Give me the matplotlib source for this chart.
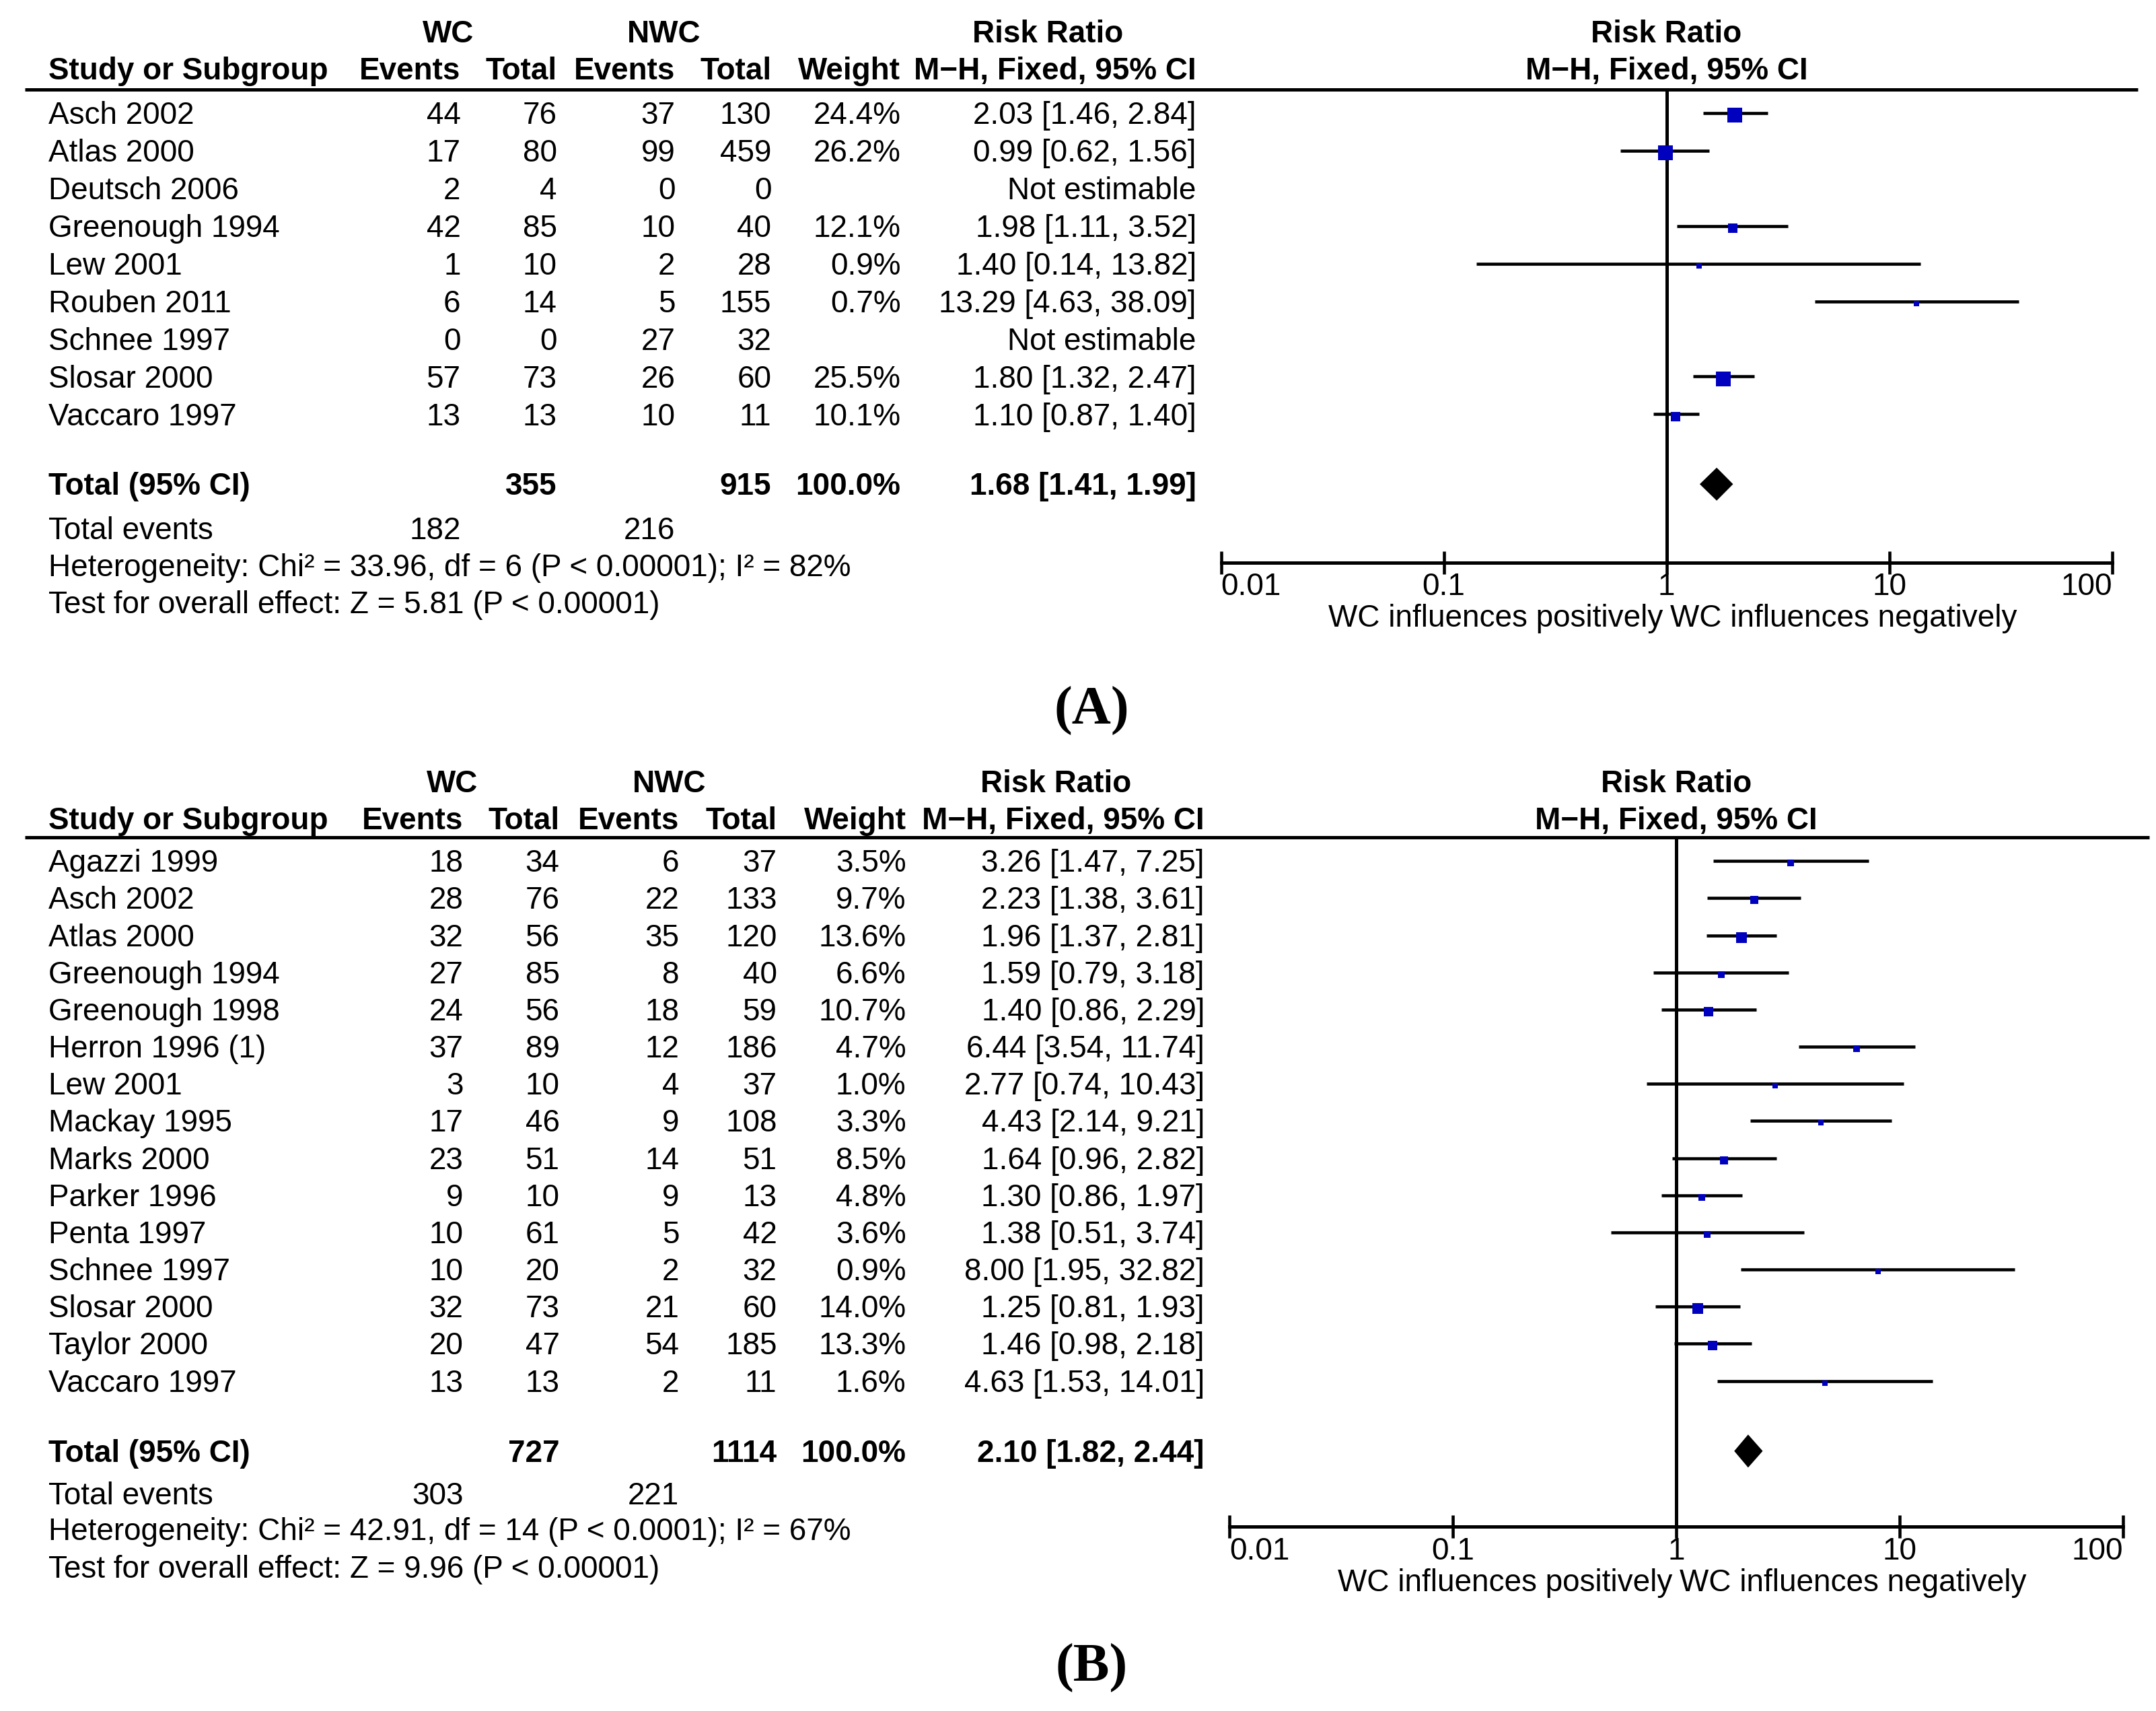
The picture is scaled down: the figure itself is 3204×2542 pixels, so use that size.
import matplotlib
matplotlib.use('Agg')
import matplotlib.pyplot as plt
from matplotlib.transforms import blended_transform_factory

plt.rcParams['font.family'] = ['Liberation Sans', 'DejaVu Sans']
FS = 33

# ---- panel A data
studies_a = ["Asch 2002", "Atlas 2000", "Deutsch 2006", "Greenough 1994", "Lew 2001",
             "Rouben 2011", "Schnee 1997", "Slosar 2000", "Vaccaro 1997"]
wc_ev_a = [44, 17, 2, 42, 1, 6, 0, 57, 13]
wc_tot_a = [76, 80, 4, 85, 10, 14, 0, 73, 13]
nwc_ev_a = [37, 99, 0, 10, 2, 5, 27, 26, 10]
nwc_tot_a = [130, 459, 0, 40, 28, 155, 32, 60, 11]
weight_a = [24.4, 26.2, None, 12.1, 0.9, 0.7, None, 25.5, 10.1]
rr_a = [2.03, 0.99, None, 1.98, 1.40, 13.29, None, 1.80, 1.10]
lo_a = [1.46, 0.62, None, 1.11, 0.14, 4.63, None, 1.32, 0.87]
hi_a = [2.84, 1.56, None, 3.52, 13.82, 38.09, None, 2.47, 1.40]
total_a = {"wc_tot": 355, "nwc_tot": 915, "rr": 1.68, "lo": 1.41, "hi": 1.99,
           "wc_ev": 182, "nwc_ev": 216}
het_a = "Heterogeneity: Chi² = 33.96, df = 6 (P < 0.00001); I² = 82%"
test_a = "Test for overall effect: Z = 5.81 (P < 0.00001)"

# ---- panel B data
studies_b = ["Agazzi 1999", "Asch 2002", "Atlas 2000", "Greenough 1994", "Greenough 1998",
             "Herron 1996 (1)", "Lew 2001", "Mackay 1995", "Marks 2000", "Parker 1996",
             "Penta 1997", "Schnee 1997", "Slosar 2000", "Taylor 2000", "Vaccaro 1997"]
wc_ev_b = [18, 28, 32, 27, 24, 37, 3, 17, 23, 9, 10, 10, 32, 20, 13]
wc_tot_b = [34, 76, 56, 85, 56, 89, 10, 46, 51, 10, 61, 20, 73, 47, 13]
nwc_ev_b = [6, 22, 35, 8, 18, 12, 4, 9, 14, 9, 5, 2, 21, 54, 2]
nwc_tot_b = [37, 133, 120, 40, 59, 186, 37, 108, 51, 13, 42, 32, 60, 185, 11]
weight_b = [3.5, 9.7, 13.6, 6.6, 10.7, 4.7, 1.0, 3.3, 8.5, 4.8, 3.6, 0.9, 14.0, 13.3, 1.6]
rr_b = [3.26, 2.23, 1.96, 1.59, 1.40, 6.44, 2.77, 4.43, 1.64, 1.30, 1.38, 8.00, 1.25, 1.46, 4.63]
lo_b = [1.47, 1.38, 1.37, 0.79, 0.86, 3.54, 0.74, 2.14, 0.96, 0.86, 0.51, 1.95, 0.81, 0.98, 1.53]
hi_b = [7.25, 3.61, 2.81, 3.18, 2.29, 11.74, 10.43, 9.21, 2.82, 1.97, 3.74, 32.82, 1.93, 2.18, 14.01]
total_b = {"wc_tot": 727, "nwc_tot": 1114, "rr": 2.10, "lo": 1.82, "hi": 2.44,
           "wc_ev": 303, "nwc_ev": 221}
het_b = "Heterogeneity: Chi² = 42.91, df = 14 (P < 0.0001); I² = 67%"
test_b = "Test for overall effect: Z = 9.96 (P < 0.00001)"

ticks = [0.01, 0.1, 1, 10, 100]
tick_labels = ["0.01", "0.1", "1", "10", "100"]

# layout grid (reference scaled to 1568 x 1244)
W, H = 1568, 1244
TY = 2  # nudge text down so caps sit where the reference has them
fig = plt.figure(figsize=(32.04, 25.42), dpi=100)
bg = fig.add_axes([0, 0, 1, 1])
bg.set_xlim(0, W)
bg.set_ylim(H, 0)
bg.axis('off')


def put(x, y, s, ha='left', bold=False):
    bg.text(x, y + TY, s, ha=ha, va='center', fontsize=FS,
            fontweight='bold' if bold else 'normal')


def ci_text(r, lo, hi):
    if r is None:
        return "Not estimable"
    return "%.2f [%.2f, %.2f]" % (r, lo, hi)


def draw_panel(lay, studies, wc_ev, wc_tot, nwc_ev, nwc_tot, weight, rr, lo, hi, tot, het, test):
    c = lay["cols"]
    # headers
    put(c["wc"], lay["h1"], "WC", 'center', True)
    put(c["nwc"], lay["h1"], "NWC", 'center', True)
    put(c["rrc"], lay["h1"], "Risk Ratio", 'center', True)
    hdr = [(35, "Study or Subgroup", 'left'), (c["ev1"], "Events", 'right'), (c["tot1"], "Total", 'right'),
           (c["ev2"], "Events", 'right'), (c["tot2"], "Total", 'right'), (c["wt"], "Weight", 'right'),
           (c["rr"], "M−H, Fixed, 95% CI", 'right')]
    for x, s, ha in hdr:
        put(x, lay["h2"], s, ha, True)
    bg.plot([18, lay["line_r"]], [lay["hl"], lay["hl"]], color='black', lw=3.6, solid_capstyle='butt')

    # study rows
    ys = [lay["row0"] + i * lay["dy"] for i in range(len(studies))]
    for i, y in enumerate(ys):
        put(35, y, studies[i])
        put(c["ev1"], y, str(wc_ev[i]), 'right')
        put(c["tot1"], y, str(wc_tot[i]), 'right')
        put(c["ev2"], y, str(nwc_ev[i]), 'right')
        put(c["tot2"], y, str(nwc_tot[i]), 'right')
        if weight[i] is not None:
            put(c["wt"], y, "%.1f%%" % weight[i], 'right')
        put(c["rr"], y, ci_text(rr[i], lo[i], hi[i]), 'right')

    # totals
    ty = lay["tot"]
    put(35, ty, "Total (95% CI)", 'left', True)
    put(c["tot1"], ty, str(tot["wc_tot"]), 'right', True)
    put(c["tot2"], ty, str(tot["nwc_tot"]), 'right', True)
    put(c["wt"], ty, "100.0%", 'right', True)
    put(c["rr"], ty, ci_text(tot["rr"], tot["lo"], tot["hi"]), 'right', True)
    put(35, lay["ev"], "Total events")
    put(c["ev1"], lay["ev"], str(tot["wc_ev"]), 'right')
    put(c["ev2"], lay["ev"], str(tot["nwc_ev"]), 'right')
    put(35, lay["het"], het)
    put(35, lay["test"], test)

    # forest plot
    x0, x1 = lay["ax_x"]
    ytop, ybot = lay["hl"], lay["axis"]
    ax = fig.add_axes([x0 / W, 1 - ybot / H, (x1 - x0) / W, (ybot - ytop) / H])
    ax.set_xscale('log')
    ax.set_xlim(0.01, 100)
    ax.set_ylim(ybot, ytop)
    ax.patch.set_visible(False)
    for s in ['top', 'left', 'right']:
        ax.spines[s].set_visible(False)
    ax.spines['bottom'].set_linewidth(3.6)
    ax.set_yticks([])
    ax.set_xticks(ticks)
    ax.set_xticklabels(tick_labels, fontsize=FS)
    ax.minorticks_off()
    ax.tick_params(axis='x', direction='inout', length=25, width=3.3, pad=-2)
    lbls = ax.get_xticklabels()
    lbls[0].set_ha('left')
    lbls[-1].set_ha('right')
    ax.axvline(1, color='black', lw=3.6)

    for i, y in enumerate(ys):
        if rr[i] is None:
            continue
        ax.plot([lo[i], hi[i]], [y, y], color='black', lw=3.3, solid_capstyle='butt')
        side = (7 + 0.6 * weight[i]) * 0.72
        ax.plot([rr[i]], [y + 1.5], marker='s', markersize=side, color='#0000BF',
                markeredgewidth=0, linestyle='none')
    d = 12
    ax.fill([tot["lo"], tot["rr"], tot["hi"], tot["rr"]], [ty, ty - d, ty, ty + d], color='black', lw=0)

    ax.annotate("WC influences positively", xy=(1, 0), xycoords=('data', 'axes fraction'),
                xytext=(-4, -60), textcoords='offset points', ha='right', va='center', fontsize=FS)
    ax.annotate("WC influences negatively", xy=(1, 0), xycoords=('data', 'axes fraction'),
                xytext=(4, -60), textcoords='offset points', ha='left', va='center', fontsize=FS)
    tr = blended_transform_factory(ax.transAxes, bg.transData)
    ax.text(0.5, lay["h1"] + TY, "Risk Ratio", transform=tr,
            ha='center', va='center', fontsize=FS, fontweight='bold')
    ax.text(0.5, lay["h2"] + TY, "M−H, Fixed, 95% CI", transform=tr,
            ha='center', va='center', fontsize=FS, fontweight='bold')

    bg.text(lay["letter"][0], lay["letter"][1], lay["letter"][2], ha='center', va='center',
            fontsize=58, fontweight='bold', family='Liberation Serif')


lay_a = {"h1": 23, "h2": 50, "hl": 65, "row0": 82, "dy": 27.4, "tot": 352, "ev": 384,
         "het": 411, "test": 438, "axis": 409, "ax_x": (888, 1536), "line_r": 1555,
         "cols": {"ev1": 335, "tot1": 405, "ev2": 491, "tot2": 561, "wt": 655, "rr": 870,
                  "wc": 326, "nwc": 483, "rrc": 762},
         "letter": (794, 517, "(A)")}
lay_b = {"h1": 568, "h2": 595, "hl": 609, "row0": 626, "dy": 27.0, "tot": 1055, "ev": 1086,
         "het": 1112, "test": 1139, "axis": 1110, "ax_x": (894, 1544), "line_r": 1563,
         "cols": {"ev1": 337, "tot1": 407, "ev2": 494, "tot2": 565, "wt": 659, "rr": 876,
                  "wc": 329, "nwc": 487, "rrc": 768},
         "letter": (794, 1213, "(B)")}

draw_panel(lay_a, studies_a, wc_ev_a, wc_tot_a, nwc_ev_a, nwc_tot_a, weight_a, rr_a, lo_a, hi_a,
           total_a, het_a, test_a)
draw_panel(lay_b, studies_b, wc_ev_b, wc_tot_b, nwc_ev_b, nwc_tot_b, weight_b, rr_b, lo_b, hi_b,
           total_b, het_b, test_b)

fig.savefig("out.png", dpi=100, facecolor='white')
